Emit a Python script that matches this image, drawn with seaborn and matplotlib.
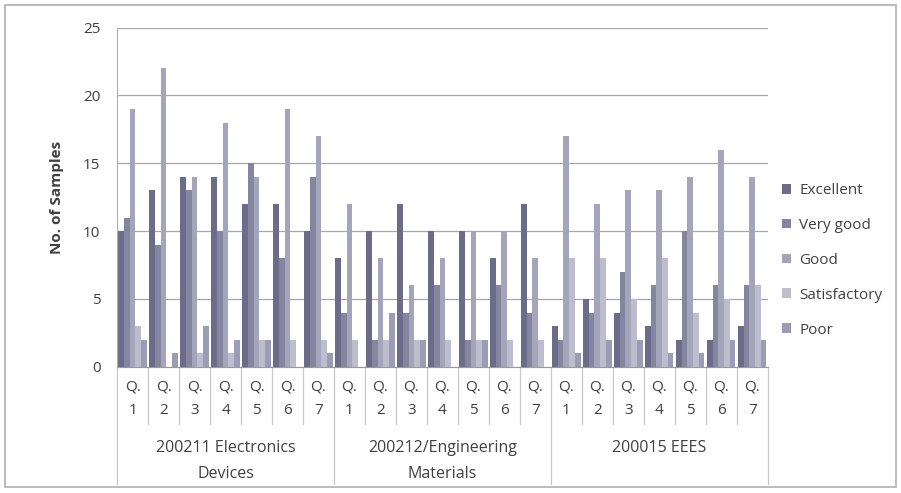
import pandas as pd
import matplotlib.pyplot as plt
import seaborn as sns
from matplotlib.patches import Rectangle

courses = ['200211 Electronics\nDevices', '200212/Engineering\nMaterials', '200015 EEES']
questions = ['Q.\n1', 'Q.\n2', 'Q.\n3', 'Q.\n4', 'Q.\n5', 'Q.\n6', 'Q.\n7']
ratings = ['Excellent', 'Very good', 'Good', 'Satisfactory', 'Poor']

# one list per rating, 7 questions for each course in turn
excellent = [10, 13, 14, 14, 12, 12, 10,
             8, 10, 12, 10, 10, 8, 12,
             3, 5, 4, 3, 2, 2, 3]
very_good = [11, 9, 13, 10, 15, 8, 14,
             4, 2, 4, 6, 2, 6, 4,
             2, 4, 7, 6, 10, 6, 6]
good = [19, 22, 14, 18, 14, 19, 17,
        12, 8, 6, 8, 10, 10, 8,
        17, 12, 13, 13, 14, 16, 14]
satisfactory = [3, 0, 1, 1, 2, 2, 2,
                2, 2, 2, 2, 2, 2, 2,
                8, 8, 5, 8, 4, 5, 6]
poor = [2, 1, 3, 2, 2, 0, 1,
        0, 4, 2, 0, 2, 0, 0,
        1, 2, 2, 1, 1, 2, 2]

colors = ['#6c6c8a', '#85859f', '#a4a4ba', '#bdbdcd', '#9c9cb4']

keys = [f'{c}|{q}' for c in courses for q in questions]
df = pd.DataFrame({
    'key': keys * 5,
    'rating': sum([[r] * len(keys) for r in ratings], []),
    'value': excellent + very_good + good + satisfactory + poor,
})

plt.rcParams['font.family'] = ['Open Sans', 'DejaVu Sans']
fig = plt.figure(figsize=(9.01, 4.93), dpi=100)
ax = fig.add_axes([0.130, 0.256, 0.722, 0.688])

sns.barplot(data=df, x='key', y='value', hue='rating', order=keys,
            hue_order=ratings, palette=colors, width=0.92, ax=ax,
            saturation=1, legend=True)

ax.set_ylim(0, 25)
ax.set_xlim(-0.5, len(keys) - 0.5)
ax.set_yticks(range(0, 26, 5))
ax.yaxis.grid(True, color='#a8a8a8', linewidth=0.9)
ax.set_axisbelow(True)
for s in ['top', 'right']:
    ax.spines[s].set_visible(False)
ax.spines['left'].set_color('#b0b0b0')
ax.spines['bottom'].set_color('#9a9a9a')
ax.tick_params(axis='y', length=0, labelsize=11, colors='#404040', pad=12)
ax.tick_params(axis='x', length=0, labelsize=11, colors='#404040', pad=9)
ax.set_xticks(range(len(keys)))
ax.set_xticklabels([k.split('|')[1] for k in keys], linespacing=1.75)
ax.set_xlabel('')
ax.set_ylabel('No. of Samples', fontsize=11, fontweight='bold', color='#404040', labelpad=14)

# separators under the axis
trans = ax.get_xaxis_transform()
for i in range(len(keys) + 1):
    long = i % 7 == 0
    ax.plot([i - 0.5, i - 0.5], [0, -0.345 if long else -0.168], transform=trans,
            color='#c8c8c8', linewidth=0.9, clip_on=False)
for j, c in enumerate(courses):
    ax.text(j * 7 + 3, -0.215, c, transform=trans, ha='center', va='top',
            fontsize=11.5, color='#404040', linespacing=1.85)

handles, labels = ax.get_legend_handles_labels()
ax.legend_.remove()
fig.legend(handles, labels, loc='center left', bbox_to_anchor=(0.853, 0.472),
           frameon=False, fontsize=11, handlelength=0.6, handleheight=0.6,
           handletextpad=0.5, labelspacing=1.3, labelcolor='#404040')

fig.add_artist(Rectangle((0.006, 0.012), 0.988, 0.978, transform=fig.transFigure,
                         fill=False, edgecolor='#b0b0b0', linewidth=1.2))

fig.savefig('out.png', dpi=100)
